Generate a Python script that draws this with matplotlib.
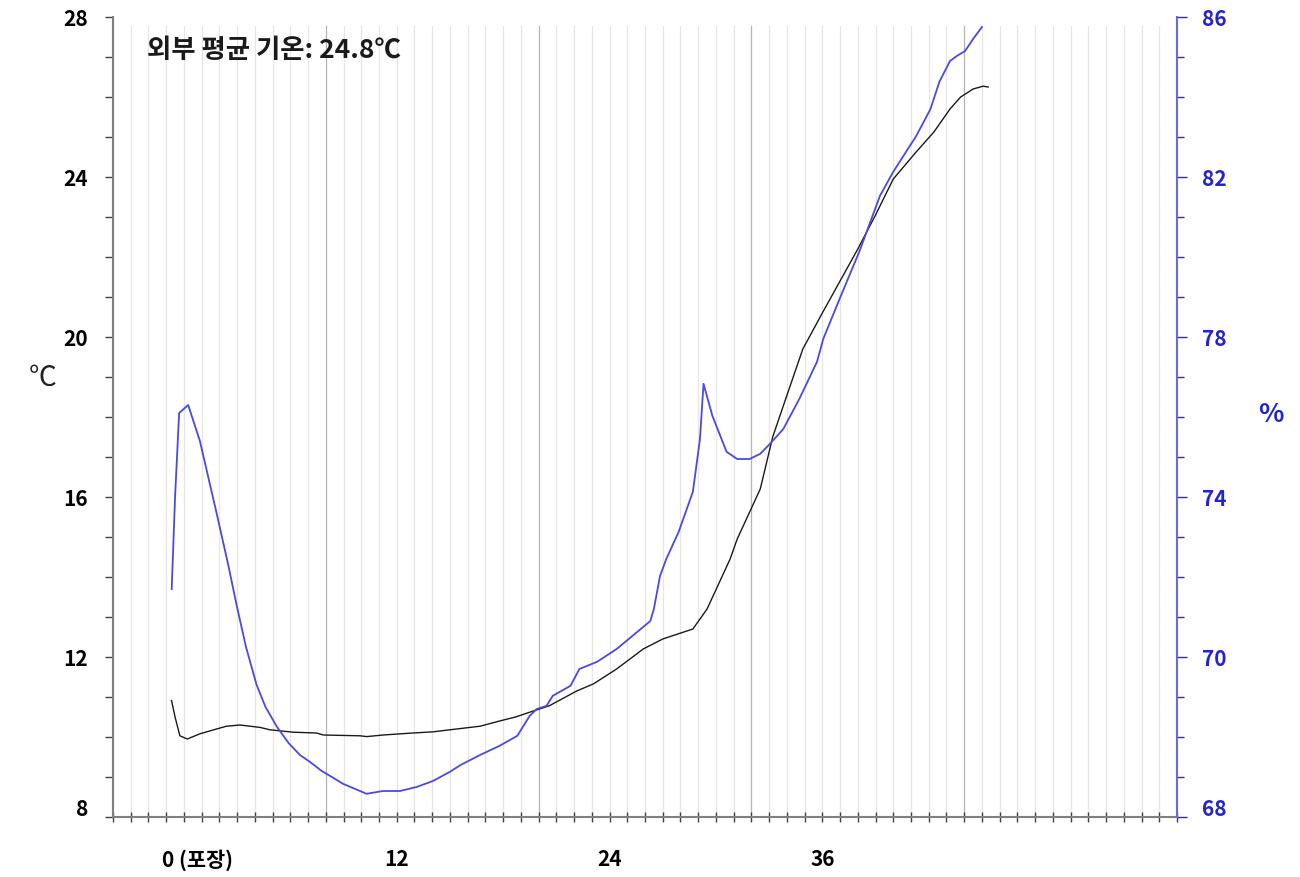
import matplotlib
matplotlib.use("Agg")
import matplotlib.pyplot as plt
from matplotlib.ticker import MultipleLocator, FixedLocator
from matplotlib.transforms import ScaledTranslation

plt.rcParams['font.family'] = ['Noto Sans CJK KR', 'DejaVu Sans']

# Hours after packaging and inside temperature (°C)
temp_hours = [-0.7, -0.5, -0.23, 0.19, 0.9, 1.84, 2.4, 3.16, 4.29, 4.85,
              6.16, 7.48, 7.86, 9.93, 10.3, 11.24, 12.56, 14.06, 15.0, 16.7,
              17.8, 18.7, 19.7, 20.6, 22.15, 23.1, 24.4, 25.9, 27.0, 28.7,
              29.5, 30.8, 31.2, 32.5, 33.2, 33.8, 34.9, 36.0, 37.0, 38.0,
              39.0, 40.0, 41.3, 42.3, 43.2, 43.8, 44.5, 45.07, 45.35]
temp_c = [10.91, 10.5, 10.03, 9.95, 10.08, 10.2, 10.27, 10.3, 10.24, 10.18,
          10.12, 10.1, 10.05, 10.03, 10.01, 10.05, 10.09, 10.13, 10.18, 10.27,
          10.4, 10.5, 10.65, 10.78, 11.15, 11.33, 11.7, 12.2, 12.45, 12.7,
          13.2, 14.45, 14.95, 16.2, 17.5, 18.28, 19.7, 20.6, 21.4, 22.2,
          23.05, 23.95, 24.63, 25.13, 25.7, 26.0, 26.2, 26.27, 26.25]

# Hours after packaging and relative humidity (%)
rh_hours = [-0.69, -0.5, -0.27, 0.24, 0.9, 1.84, 2.5, 2.97, 3.5, 4.1,
            4.6, 5.25, 5.9, 6.54, 7.1, 7.77, 8.23, 8.97, 10.3, 11.22,
            12.18, 13.12, 14.04, 15.0, 15.6, 16.7, 17.8, 18.8, 19.5, 19.9,
            20.45, 20.8, 21.8, 22.3, 23.3, 24.4, 25.3, 26.3, 26.5, 26.85,
            27.2, 27.9, 28.7, 29.1, 29.3, 29.8, 30.6, 31.2, 31.9, 32.5,
            33.05, 33.8, 34.7, 35.7, 36.05, 37.0, 38.1, 39.25, 40.0, 41.3,
            42.1, 42.6, 43.2, 43.6, 44.05, 44.5, 45.0]
rh_pct = [71.7, 74.0, 76.1, 76.3, 75.4, 73.6, 72.3, 71.3, 70.25, 69.3,
          68.75, 68.25, 67.85, 67.55, 67.38, 67.15, 67.03, 66.83, 66.58, 66.65,
          66.65, 66.75, 66.9, 67.13, 67.3, 67.55, 67.78, 68.03, 68.53, 68.7,
          68.78, 69.03, 69.28, 69.7, 69.88, 70.2, 70.53, 70.9, 71.2, 72.03,
          72.45, 73.13, 74.13, 75.45, 76.83, 76.03, 75.13, 74.95, 74.95, 75.08,
          75.33, 75.7, 76.45, 77.38, 77.95, 78.98, 80.15, 81.53, 82.13, 83.03,
          83.7, 84.38, 84.9, 85.03, 85.15, 85.45, 85.75]

x_ticks = [0, 12, 24, 36]
x_tick_labels = ["0 (포장)", "12", "24", "36"]
temp_ticks = [8, 12, 16, 20, 24, 28]
rh_ticks = [66, 70, 74, 78, 82, 86]
rh_tick_labels = ["68", "70", "74", "78", "82", "86"]
midnight_hours = [8, 20, 32, 44]
note_text = "외부 평균 기온: 24.8℃"

BLUE_LINE = "#4a4ae0"
BLUE_TEXT = "#2323d2"
AXIS_GRAY = "#7f7f7f"

fig = plt.figure(figsize=(13, 8.78), dpi=100)
ax = fig.add_axes([113 / 1300, 60 / 878, 1064 / 1300, 800 / 878])
ax2 = ax.twinx()

ax.set_xlim(-4, 56)
ax.set_ylim(8, 28)
ax2.set_ylim(66, 86)

# hourly vertical grid, darker at midnight
for h in range(-3, 56):
    dark = h in midnight_hours
    ax.axvline(h, ymin=0, ymax=0.989, color="#b4b4b4" if dark else "#e6e6e6",
               lw=0.9, zorder=0)

ax.plot(temp_hours, temp_c, color="#1a1a1a", lw=1.0, zorder=3)
ax2.plot(rh_hours, rh_pct, color=BLUE_LINE, lw=1.3, zorder=3)

# spines
for a in (ax, ax2):
    a.spines['top'].set_visible(False)
ax.spines['right'].set_visible(False)
ax.spines['left'].set_color(AXIS_GRAY)
ax.spines['bottom'].set_color(AXIS_GRAY)
ax.spines['left'].set_linewidth(1.5)
ax.spines['bottom'].set_linewidth(1.5)
ax2.spines['left'].set_visible(False)
ax2.spines['bottom'].set_visible(False)
ax2.spines['right'].set_color("#6a6ae0")
ax2.spines['right'].set_linewidth(1.5)

# x axis
ax.xaxis.set_major_locator(FixedLocator(x_ticks))
ax.set_xticklabels(x_tick_labels, fontsize=15, fontweight='bold')
ax.xaxis.set_minor_locator(MultipleLocator(1))
ax.tick_params(axis='x', which='both', direction='inout', length=7, width=1,
               color="#404040", pad=19)

# left axis
ax.yaxis.set_major_locator(FixedLocator(temp_ticks))
ax.yaxis.set_minor_locator(MultipleLocator(1))
ax.set_yticklabels([str(t) for t in temp_ticks], fontsize=15, fontweight='bold')
ax.tick_params(axis='y', which='both', direction='out', length=6, width=1,
               color="#404040", pad=12)

# right axis
ax2.yaxis.set_major_locator(FixedLocator(rh_ticks))
ax2.yaxis.set_minor_locator(MultipleLocator(1))
ax2.set_yticklabels(rh_tick_labels, fontsize=15, fontweight='bold', color=BLUE_TEXT)
ax2.tick_params(axis='y', which='major', direction='out', length=7, width=1,
                color="#303080", pad=11)
ax2.tick_params(axis='y', which='minor', direction='out', length=5, width=1,
                color="#303080")

# nudge the first x label and the bottom y labels
xl0 = ax.get_xticklabels()[0]
xl0.set_transform(xl0.get_transform() + ScaledTranslation(14 / 100, 0, fig.dpi_scale_trans))
up = ScaledTranslation(0, 10 / 100, fig.dpi_scale_trans)
lbl = ax.get_yticklabels()[0]
lbl.set_transform(lbl.get_transform() + up)
lbl2 = ax2.get_yticklabels()[0]
lbl2.set_transform(lbl2.get_transform() + up)

# axis titles
fig.text(43 / 1300, 1 - 378 / 878, "℃", fontsize=20, ha='center', va='center',
         color="#222222")
fig.text(1271 / 1300, 1 - 415 / 878, "%", fontsize=19, ha='center', va='center',
         color=BLUE_TEXT, fontweight='bold')

ax.text(147 / 1300, 1 - 50 / 878, note_text, transform=fig.transFigure,
        fontsize=19, fontweight='bold', ha='left', va='center', color="#1a1a1a")

fig.savefig("out.png", dpi=100)
